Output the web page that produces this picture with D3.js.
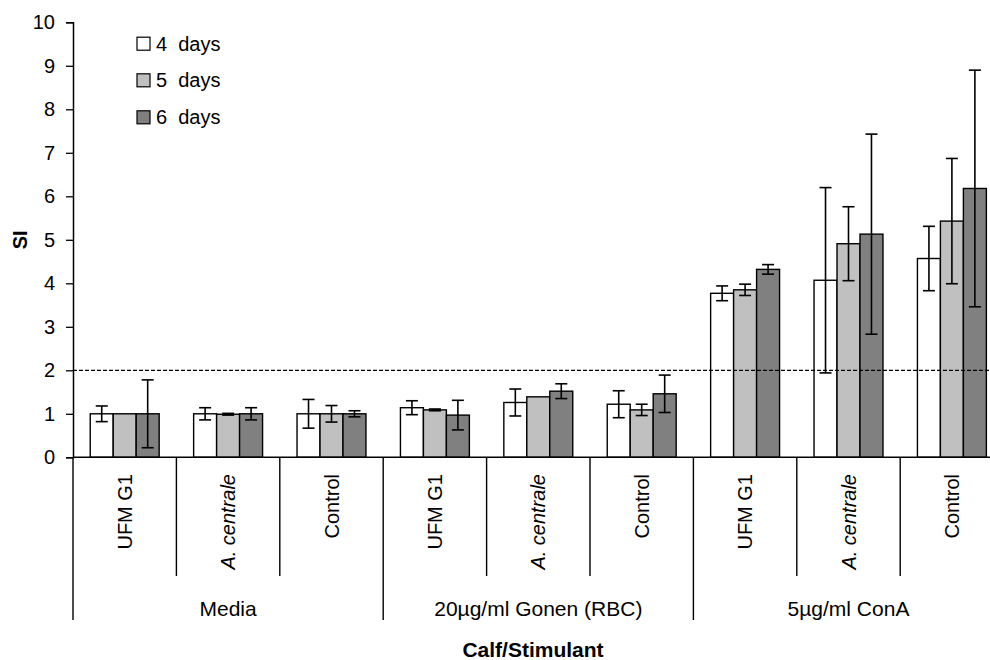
<!DOCTYPE html>
<html>
<head>
<meta charset="utf-8">
<script src="https://cdn.jsdelivr.net/npm/d3@7"></script>
<style>
  html, body { margin: 0; padding: 0; background: #fff; }
  svg { display: block; font-family: "Liberation Sans", Arial, sans-serif; }
</style>
</head>
<body>
<svg id="chart" width="990" height="660"></svg>
<script>
// Stimulation index by calf and stimulant, after 4, 5 and 6 days of culture
const groups = ["Media", "20µg/ml Gonen (RBC)", "5µg/ml ConA"];
const calves = ["UFM G1", "A. centrale", "Control"];
const seriesNames = ["4  days", "5  days", "6  days"];
const seriesColors = ["#ffffff", "#c0c0c0", "#808080"];

// Means (SI), one value per calf within each stimulant group
const days4 = [1.00, 1.00, 1.00, 1.14, 1.26, 1.22, 3.77, 4.07, 4.57];
const days5 = [1.00, 0.99, 1.00, 1.09, 1.39, 1.09, 3.85, 4.91, 5.43];
const days6 = [1.00, 1.00, 1.00, 0.97, 1.52, 1.46, 4.32, 5.13, 6.18];
// Error bar half-widths
const err4 = [0.18, 0.14, 0.33, 0.16, 0.31, 0.31, 0.17, 2.13, 0.74];
const err5 = [0.00, 0.02, 0.19, 0.02, 0.00, 0.13, 0.13, 0.85, 1.44];
const err6 = [0.78, 0.14, 0.07, 0.34, 0.17, 0.43, 0.11, 2.30, 2.72];

const yTicks = [0, 1, 2, 3, 4, 5, 6, 7, 8, 9, 10];
const threshold = 2;

const values = [days4, days5, days6];
const errors = [err4, err5, err6];

// one entry per calf/stimulant category
const cats = [];
groups.forEach((g, gi) => calves.forEach((c, ci) => cats.push({ id: gi + "-" + ci, group: g, calf: c, idx: gi * 3 + ci })));

const svg = d3.select("#chart");
const plotLeft = 73, catWidth = 103.4, plotTop = 22.3, plotBottom = 457.3;
const plotRight = plotLeft + catWidth * cats.length;

const x = d3.scaleBand().domain(cats.map(d => d.id)).range([plotLeft, plotRight]).padding(0);
const xs = d3.scaleBand().domain([0, 1, 2]).range([0, x.bandwidth()]).paddingInner(0).paddingOuter(0.75);
const y = d3.scaleLinear().domain([0, 10]).range([plotBottom, plotTop]);

// y axis
const yAxis = d3.axisLeft(y).tickValues(yTicks).tickSize(7).tickPadding(11).tickFormat(d3.format("d"));
const gy = svg.append("g").attr("transform", `translate(${plotLeft},0)`).call(yAxis);
gy.select(".domain").attr("stroke", "#000").attr("stroke-width", 1.5);
gy.selectAll(".tick line").attr("stroke", "#000").attr("stroke-width", 1.3);
gy.selectAll(".tick text").attr("font-size", 20).attr("fill", "#000")
  .attr("font-family", "'Liberation Sans', Arial, sans-serif");

svg.append("text")
  .attr("transform", `translate(27,${(plotTop + plotBottom) / 2}) rotate(-90)`)
  .attr("text-anchor", "middle")
  .attr("font-size", 20).attr("font-weight", "bold")
  .text("SI");

// bars
const barG = svg.append("g");
values.forEach((vals, si) => {
  barG.selectAll(null).data(cats).enter().append("rect")
    .attr("x", d => x(d.id) + xs(si))
    .attr("width", xs.bandwidth())
    .attr("y", d => y(vals[d.idx]))
    .attr("height", d => y(0) - y(vals[d.idx]))
    .attr("fill", seriesColors[si])
    .attr("stroke", "#000")
    .attr("stroke-width", 1.4);
});

// error bars
const errG = svg.append("g").attr("stroke", "#000").attr("stroke-width", 1.6);
values.forEach((vals, si) => {
  cats.forEach(d => {
    const e = errors[si][d.idx];
    if (e <= 0) return;
    const cx = x(d.id) + xs(si) + xs.bandwidth() / 2;
    const v = vals[d.idx];
    const y1 = y(v + e), y0 = y(v - e);
    errG.append("line").attr("x1", cx).attr("x2", cx).attr("y1", y1).attr("y2", y0);
    errG.append("line").attr("x1", cx - 6).attr("x2", cx + 6).attr("y1", y1).attr("y2", y1);
    errG.append("line").attr("x1", cx - 6).attr("x2", cx + 6).attr("y1", y0).attr("y2", y0);
  });
});

// threshold line at SI = 2
svg.append("line")
  .attr("x1", plotLeft).attr("x2", 990)
  .attr("y1", y(threshold)).attr("y2", y(threshold))
  .attr("stroke", "#000").attr("stroke-width", 1.2)
  .attr("stroke-dasharray", "4,2");

// x axis baseline
svg.append("line")
  .attr("x1", plotLeft).attr("x2", 990)
  .attr("y1", y(0)).attr("y2", y(0))
  .attr("stroke", "#000").attr("stroke-width", 1.5);

// category separators (short) and group separators (long)
const sepG = svg.append("g").attr("stroke", "#000").attr("stroke-width", 1.4);
for (let i = 0; i <= cats.length; i++) {
  const xx = plotLeft + i * x.step();
  const isGroup = i % 3 === 0;
  sepG.append("line").attr("x1", xx).attr("x2", xx)
    .attr("y1", y(0)).attr("y2", isGroup ? 620 : 576);
}

// calf labels, rotated
svg.append("g").selectAll("text").data(cats).enter().append("text")
  .attr("transform", d => `translate(${x(d.id) + x.bandwidth() / 2 + 7},474) rotate(-90)`)
  .attr("text-anchor", "end")
  .attr("font-size", 20)
  .attr("font-style", d => d.calf === "A. centrale" ? "italic" : "normal")
  .text(d => d.calf);

// stimulant group labels
svg.append("g").selectAll("text").data(groups).enter().append("text")
  .attr("x", (d, i) => plotLeft + (i * 3 + 1.5) * x.step())
  .attr("y", 616)
  .attr("text-anchor", "middle")
  .attr("font-size", 21)
  .text(d => d);

svg.append("text")
  .attr("x", 533).attr("y", 657)
  .attr("text-anchor", "middle")
  .attr("font-size", 21).attr("font-weight", "bold")
  .text("Calf/Stimulant");

// legend
const legY = [43.7, 80.3, 117.3];
const leg = svg.append("g");
seriesNames.forEach((n, i) => {
  leg.append("rect").attr("x", 137).attr("y", legY[i] - 6.5).attr("width", 13).attr("height", 13)
    .attr("fill", seriesColors[i]).attr("stroke", "#000").attr("stroke-width", 1.2);
  leg.append("text").attr("x", 156).attr("y", legY[i]).attr("dy", "0.35em")
    .attr("font-size", 20).attr("xml:space", "preserve").style("white-space", "pre").text(n);
});
</script>
</body>
</html>
